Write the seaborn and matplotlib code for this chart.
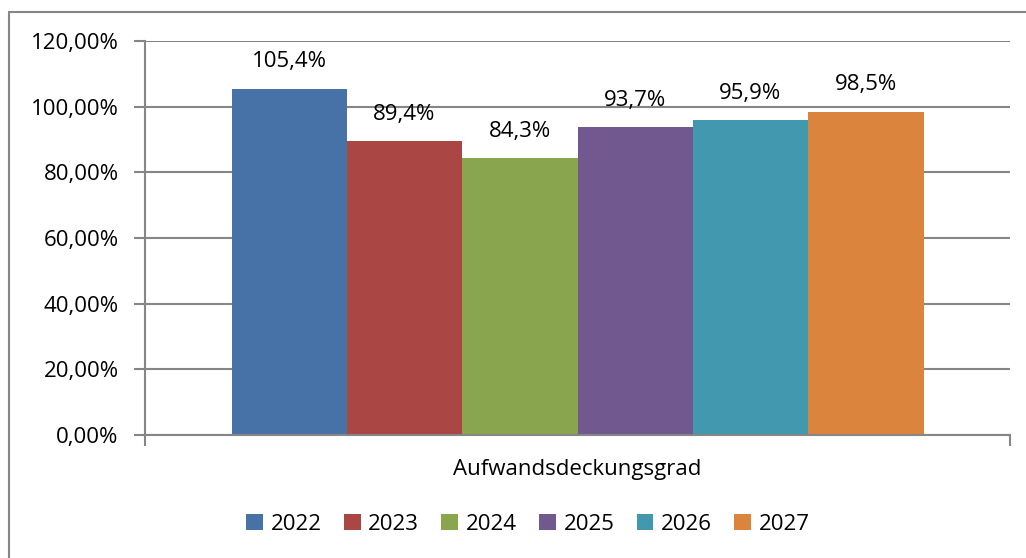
import matplotlib
matplotlib.use('Agg')
import matplotlib.pyplot as plt
import matplotlib.patches as mpatches
import seaborn as sns
import pandas as pd
from matplotlib.ticker import FuncFormatter

# data
kategorie = ['Aufwandsdeckungsgrad']
jahre = ['2022', '2023', '2024', '2025', '2026', '2027']
werte = [105.4, 89.4, 84.3, 93.7, 95.9, 98.5]
farben = ['#4672A8', '#AA4644', '#89A54E', '#71588F', '#4198AF', '#DB843D']

df = pd.DataFrame({'kat': kategorie * len(jahre), 'jahr': jahre, 'wert': werte})

sns.set_style('white')
plt.rcParams['font.family'] = ['Open Sans', 'DejaVu Sans']
plt.rcParams['text.color'] = 'black'
plt.rcParams['axes.labelcolor'] = 'black'
plt.rcParams['ytick.labelcolor'] = 'black'

FS = 16

fig = plt.figure(figsize=(10.26, 5.58), dpi=100)
ax = fig.add_axes([145/1026, 1 - 435/558, 865/1026, 394/558])

sns.barplot(data=df, x='kat', y='wert', hue='jahr', palette=farben,
            hue_order=jahre, width=0.8, saturation=1, linewidth=0,
            ax=ax, legend=True)

ax.set_ylim(0, 120)
ax.set_xlim(-0.5, 0.5)
ax.set_yticks(range(0, 121, 20))
ax.yaxis.set_major_formatter(FuncFormatter(lambda v, p: f'{v:.2f}%'.replace('.', ',')))
ax.yaxis.grid(True, color='#868686', linewidth=1.5)
ax.set_axisbelow(True)
for s in ['top', 'right']:
    ax.spines[s].set_visible(False)
for s in ['left', 'bottom']:
    ax.spines[s].set_color('#868686')
    ax.spines[s].set_linewidth(1.5)
ax.tick_params(axis='y', which='major', left=True, length=8, width=1.5,
               color='#868686', labelsize=FS, pad=11)
ax.set_xticks([])
ax.set_xticks([-0.5, 0.5], minor=True)
ax.tick_params(axis='x', which='minor', bottom=True, length=8, width=1.5,
               color='#868686')
ax.set_ylabel('')
ax.set_xlabel('')
fig.text(577/1026, 1 - 469/558, 'Aufwandsdeckungsgrad', fontsize=FS,
         ha='center', va='center')

for cont in ax.containers:
    for bar in cont:
        h = bar.get_height()
        ax.annotate(f'{h:.1f}%'.replace('.', ','),
                    (bar.get_x() + bar.get_width()/2, h),
                    xytext=(0, 27), textcoords='offset pixels',
                    ha='center', va='center', fontsize=FS)

leg = ax.legend(loc='center', bbox_to_anchor=(528/1026, (558 - 524) / 558),
                bbox_transform=fig.transFigure, ncol=6, frameon=False,
                fontsize=FS, handlelength=0.75, handleheight=0.75,
                handletextpad=0.35, columnspacing=1.0)

# outer chart frame
fig.patches.append(mpatches.Rectangle((9/1026, -0.05), 1.1, 1 - 12/558 + 0.05,
                                      transform=fig.transFigure, fill=False,
                                      edgecolor='#868686', linewidth=1.5))

plt.savefig('out.png', dpi=100)
plt.close()
